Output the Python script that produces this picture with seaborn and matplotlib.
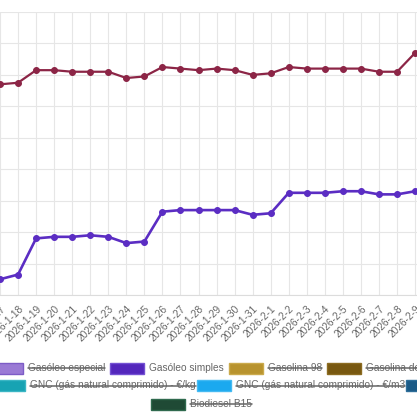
import matplotlib
matplotlib.use("Agg")
import matplotlib.pyplot as plt
import matplotlib.transforms as mtransforms
from matplotlib.patches import Rectangle
from matplotlib.lines import Line2D
import pandas as pd
import seaborn as sns

# ---------------- data ----------------
datas = ["2026-1-17", "2026-1-18", "2026-1-19", "2026-1-20", "2026-1-21", "2026-1-22",
         "2026-1-23", "2026-1-24", "2026-1-25", "2026-1-26", "2026-1-27", "2026-1-28",
         "2026-1-29", "2026-1-30", "2026-1-31", "2026-2-1", "2026-2-2", "2026-2-3",
         "2026-2-4", "2026-2-5", "2026-2-6", "2026-2-7", "2026-2-8", "2026-2-9"]

gasolina_simples_95 = [1.684, 1.685, 1.693, 1.693, 1.692, 1.692, 1.692, 1.688, 1.689,
                       1.695, 1.694, 1.693, 1.694, 1.693, 1.690, 1.691, 1.695, 1.694,
                       1.694, 1.694, 1.694, 1.692, 1.692, 1.704]

gasoleo_simples = [1.560, 1.563, 1.586, 1.587, 1.587, 1.588, 1.587, 1.583, 1.584,
                   1.603, 1.604, 1.604, 1.604, 1.604, 1.601, 1.602, 1.615, 1.615,
                   1.615, 1.616, 1.616, 1.614, 1.614, 1.616]

y_ticks = [1.55, 1.57, 1.59, 1.61, 1.63, 1.65, 1.67, 1.69, 1.71, 1.73]

series_names = ["Gasolina simples 95", "Gasóleo simples"]
series_colors = ["#8C2546", "#5B2DC3"]

# legend entries: label, fill, edge, hidden
legend_row1 = [("Gasóleo especial", "#9A7AD5", "#7D5CC6", True),
               ("Gasóleo simples", "#5326BC", "#7451D3", False),
               ("Gasolina 98", "#B8932E", "#CBAA4C", True),
               ("Gasolina de mistura (motores a 2 tempos)", "#785810", "#8C6C22", True)]
legend_row2 = [("GNC (gás natural comprimido) - €/kg", "#17A3B3", "#3BB6C4", True),
               ("GNC (gás natural comprimido) - €/m3", "#1BA9EF", "#45BAF2", True),
               ("GNL (gás natural liquefeito) - €/kg", "#1B5A86", "#2E6E99", True)]
legend_row3 = [("Biodiesel B15", "#1F4A35", "#2F6A4E", True)]

# ---------------- figure ----------------
sns.set_style("white")
plt.rcParams['font.family'] = ['Liberation Sans', 'DejaVu Sans']

W, H = 417, 416
fig = plt.figure(figsize=(W / 100, H / 100), dpi=100)

plot_top_px, plot_bot_px = 12, 295
ax = fig.add_axes([0, (H - plot_bot_px) / H, 1, (plot_bot_px - plot_top_px) / H])

idx = list(range(len(datas)))
df = pd.DataFrame({
    "i": idx * 2,
    "data": datas * 2,
    "preço": gasolina_simples_95 + gasoleo_simples,
    "combustível": [series_names[0]] * len(datas) + [series_names[1]] * len(datas),
})

for name, col, lw in zip(series_names, series_colors, [1.6, 1.9]):
    sub = df[df["combustível"] == name]
    sns.lineplot(data=sub, x="i", y="preço", color=col, linewidth=lw,
                 marker="o", markersize=4.2, markeredgecolor=col, markeredgewidth=0.8,
                 ax=ax, legend=False, zorder=3)

step_px = 18.29
first_px = 12.7
left_idx = 1 - first_px / step_px
ax.set_xlim(left_idx, left_idx + W / step_px)
ax.set_ylim(y_ticks[0], y_ticks[-1])
ax.set_yticks(y_ticks)
ax.set_xticks(idx)
ax.set_xticklabels(datas, rotation=45, ha="right", rotation_mode="anchor",
                   fontsize=7.3, color="#666666")
ax.tick_params(axis="x", length=3, color="#E2E2E2", pad=3)
ax.tick_params(axis="y", length=0, labelsize=7.3, labelcolor="#666666")
ax.set_xlabel("")
ax.set_ylabel("")
ax.grid(True, color="#E6E6E6", linewidth=0.8)
ax.set_axisbelow(True)
for s in ["top", "left", "right"]:
    ax.spines[s].set_visible(False)
ax.spines["bottom"].set_color("#DCDCDC")
ax.spines["bottom"].set_linewidth(0.8)

# ---------------- legend (Chart.js style, centered rows) ----------------
def fx(px):
    return px / W

def fy(py):
    return 1 - py / H

box_w, box_h = 34, 11
rows = [(legend_row1, 368, [-11, 110, 229, 327]),
        (legend_row2, 385.5, [-9, 197, 406]),
        (legend_row3, 404, [151])]

texts = []
for items, ry, xs in rows:
    for (label, fill, edge, hidden), bx in zip(items, xs):
        fig.add_artist(Rectangle((fx(bx), fy(ry + box_h / 2)), box_w / W, box_h / H,
                                 transform=fig.transFigure, facecolor=fill,
                                 edgecolor=edge, linewidth=1.0))
        t = fig.text(fx(bx + box_w + 5), fy(ry), label, fontsize=7.3, color="#666666",
                     ha="left", va="center")
        texts.append((t, hidden, ry))

fig.canvas.draw()
renderer = fig.canvas.get_renderer()
for t, hidden, ry in texts:
    if hidden:
        bb = t.get_window_extent(renderer)
        ymid = (H - ry)
        fig.add_artist(Line2D([bb.x0, bb.x1], [ymid, ymid], color="#666666",
                              linewidth=1.1, transform=mtransforms.IdentityTransform()))

fig.savefig("out.png", dpi=100)
